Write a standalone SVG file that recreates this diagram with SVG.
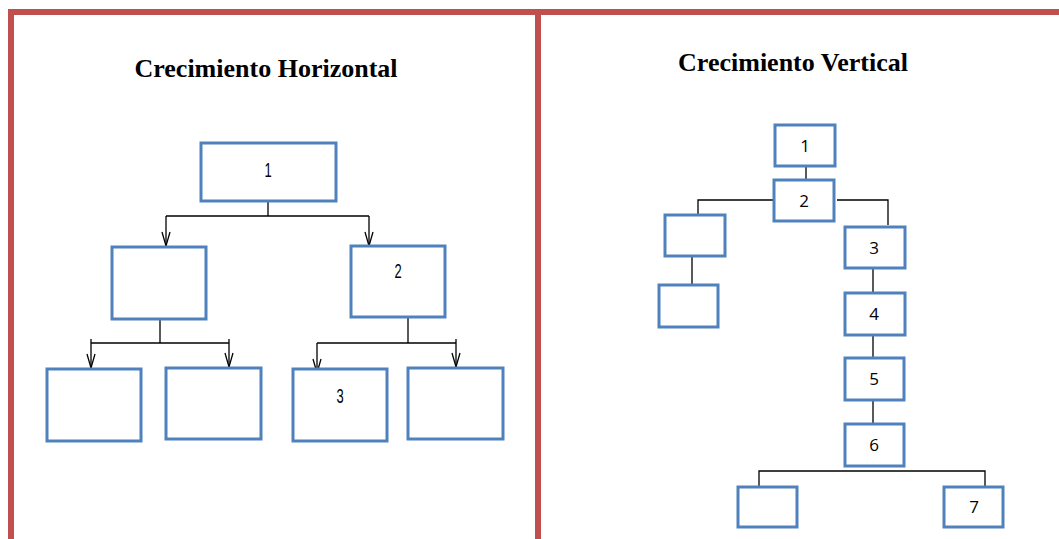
<svg xmlns="http://www.w3.org/2000/svg" width="1059" height="539" viewBox="0 0 1059 539">
  <style>
    .frame { fill: #C0504D; }
    .box { fill: #FFFFFF; stroke: #4F81BD; stroke-width: 3; }
    .wire { fill: none; stroke: #000000; stroke-width: 1.3; }
    .title { font-family: "Liberation Serif", "Times New Roman", serif; font-weight: bold; font-size: 26px; fill: #000000; text-anchor: middle; }
    .lbl-h { font-family: "Liberation Sans", Arial, sans-serif; font-size: 18px; fill: #000000; text-anchor: middle; }
    .lbl-v { font-family: "Open Sans", "Liberation Sans", sans-serif; font-size: 17px; fill: #000000; text-anchor: middle; }
  </style>
  <defs>
    <marker id="vee" viewBox="-16 -6 18 12" markerUnits="userSpaceOnUse" markerWidth="18" markerHeight="12" refX="0" refY="0" orient="auto" overflow="visible">
      <path d="M-14,-4 L0,0 L-14,4" fill="none" stroke="#000000" stroke-width="1.3"/>
    </marker>
  </defs>

  <rect width="1059" height="539" fill="#FFFFFF"/>

  <!-- page frame -->
  <g id="frame">
    <rect class="frame" x="8" y="9" width="1051" height="6"/>
    <rect class="frame" x="8" y="9" width="6" height="530"/>
    <rect class="frame" x="535" y="9" width="6" height="530"/>
  </g>

  <!-- titles -->
  <text class="title" x="266" y="77">Crecimiento Horizontal</text>
  <text class="title" x="793" y="71">Crecimiento Vertical</text>

  <!-- connectors -->
  <g id="connectors">
    <!-- horizontal growth -->
    <path class="wire" d="M268,201 V216"/>
    <path class="wire" d="M166,216 H369"/>
    <path class="wire" d="M166,216 V246" marker-end="url(#vee)"/>
    <path class="wire" d="M369,216 V246" marker-end="url(#vee)"/>

    <path class="wire" d="M160,319 V343"/>
    <path class="wire" d="M91,343 H229"/>
    <path class="wire" d="M91,339 V368" marker-end="url(#vee)"/>
    <path class="wire" d="M229,339 V367" marker-end="url(#vee)"/>

    <path class="wire" d="M408,317 V343"/>
    <path class="wire" d="M317,343 H456"/>
    <path class="wire" d="M317,343 V373" marker-end="url(#vee)"/>
    <path class="wire" d="M456,339 V367" marker-end="url(#vee)"/>

    <!-- vertical growth -->
    <path class="wire" d="M806,167 V179"/>
    <path class="wire" d="M774,200 H698 V214"/>
    <path class="wire" d="M692,257 V284"/>
    <path class="wire" d="M837,200 H888 V225"/>
    <path class="wire" d="M873,269 V292"/>
    <path class="wire" d="M873,336 V357"/>
    <path class="wire" d="M873,401 V423"/>
    <path class="wire" d="M759,486 V471 H985 V486"/>
  </g>

  <!-- horizontal growth nodes (labels drawn narrow) -->
  <g id="h1"><rect class="box" x="201" y="143" width="135" height="58"/><text class="lbl-h" transform="translate(268,177) scale(0.72,1.08)">1</text></g>
  <g id="h-left"><rect class="box" x="112" y="247" width="94" height="72"/></g>
  <g id="h2"><rect class="box" x="351" y="246" width="94" height="71"/><text class="lbl-h" transform="translate(398,278) scale(0.72,1.08)">2</text></g>
  <g id="h-ll"><rect class="box" x="47" y="369" width="94" height="72"/></g>
  <g id="h-lr"><rect class="box" x="166" y="368" width="95" height="71"/></g>
  <g id="h3"><rect class="box" x="293" y="369" width="94" height="72"/><text class="lbl-h" transform="translate(340,403) scale(0.72,1.08)">3</text></g>
  <g id="h-rr"><rect class="box" x="408" y="368" width="95" height="71"/></g>

  <!-- vertical growth nodes -->
  <g id="v1"><rect class="box" x="775" y="125" width="60" height="41"/><text class="lbl-v" x="805" y="152">1</text></g>
  <g id="v2"><rect class="box" x="774" y="180" width="60" height="41"/><text class="lbl-v" x="804" y="207">2</text></g>
  <g id="v-a"><rect class="box" x="665" y="215" width="60" height="41"/></g>
  <g id="v-b"><rect class="box" x="659" y="285" width="59" height="42"/></g>
  <g id="v3"><rect class="box" x="845" y="227" width="60" height="41"/><text class="lbl-v" x="874" y="254">3</text></g>
  <g id="v4"><rect class="box" x="845" y="293" width="60" height="42"/><text class="lbl-v" x="874" y="320">4</text></g>
  <g id="v5"><rect class="box" x="845" y="358" width="59" height="42"/><text class="lbl-v" x="874" y="385">5</text></g>
  <g id="v6"><rect class="box" x="845" y="424" width="59" height="42"/><text class="lbl-v" x="874" y="451">6</text></g>
  <g id="v-c"><rect class="box" x="738" y="487" width="59" height="40"/></g>
  <g id="v7"><rect class="box" x="944" y="487" width="59" height="40"/><text class="lbl-v" x="974" y="513">7</text></g>
</svg>
